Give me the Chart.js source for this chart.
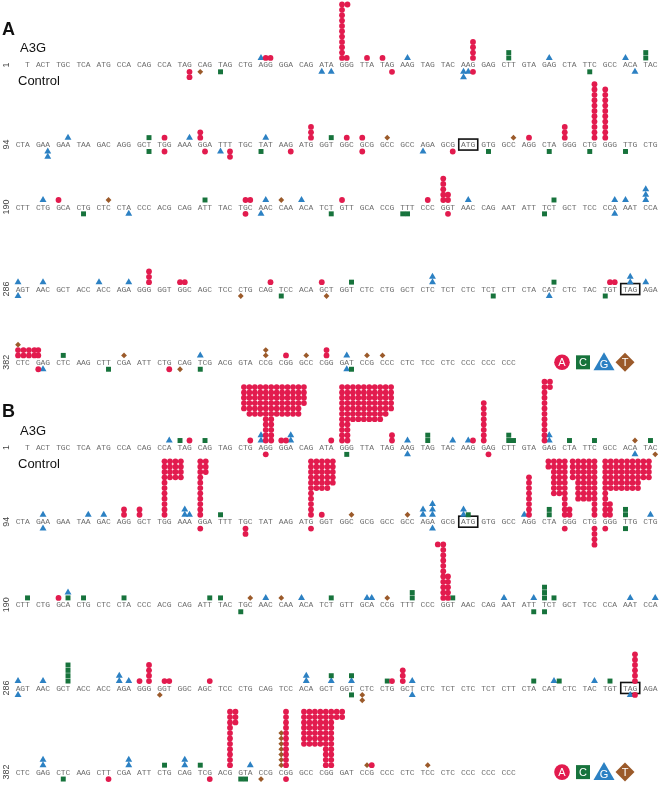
<!DOCTYPE html>
<html>
<head>
<meta charset="utf-8">
<script src="https://cdn.jsdelivr.net/npm/chart.js@4.4.1/dist/chart.umd.min.js"></script>
<style>
  html, body { margin: 0; padding: 0; background: #fff; }
  #wrap { position: relative; width: 664px; height: 787px; }
</style>
</head>
<body>
<div id="wrap"><canvas id="hypermut" width="664" height="787"></canvas></div>
<script>
// sequence lines (first line starts on the third base of a codon, "_" = empty)
var rowStart = ["1", "94", "190", "286", "382"];
var rowCodons = [
  "__T ACT TGC TCA ATG CCA CAG CCA TAG CAG TAG CTG AGG GGA CAG ATA GGG TTA TAG AAG TAG TAC AAG GAG CTT GTA GAG CTA TTC GCC ACA TAC",
  "CTA GAA GAA TAA GAC AGG GCT TGG AAA GGA TTT TGC TAT AAG ATG GGT GGC GCG GCC GCC AGA GCG ATG GTG GCC AGG CTA GGG CTG GGG TTG CTG",
  "CTT CTG GCA CTG CTC CTA CCC ACG CAG ATT TAC TGC AAC CAA ACA TCT GTT GCA CCG TTT CCC GGT AAC CAG AAT ATT TCT GCT TCC CCA AAT CCA",
  "AGT AAC GCT ACC ACC AGA GGG GGT GGC AGC TCC CTG CAG TCC ACA GCT GGT CTC CTG GCT CTC TCT CTC TCT CTT CTA CAT CTC TAC TGT TAG AGA",
  "CTC GAG CTC AAG CTT CGA ATT CTG CAG TCG ACG GTA CCG CGG GCC CGG GAT CCG CCC CTC TCC CTC CCC CCC CCC"
];
var boxedCodons = [[1, 22], [3, 30]];   // start ATG, stop TAG
var legendBases = ["A", "C", "G", "T"];

// stacks: [line, base index in line, number of hits, new base, first level (opt), nudge (opt)]
var a3gA = [
  [0,36,1,"G"],[0,37,1,"A"],[0,38,1,"A"],[0,49,1,"A"],[0,52,1,"A"],[0,54,1,"A"],[0,58,1,"G"],[0,68,4,"A"],
  [0,73,2,"C"],[0,79,1,"G"],[0,90,1,"G"],[0,93,2,"C"],
  [1,8,1,"G"],[1,20,1,"C"],[1,22,1,"A"],[1,26,1,"G"],[1,27,2,"A"],[1,37,1,"G"],[1,44,3,"A"],[1,47,1,"C"],
  [1,49,1,"A"],[1,51,1,"A"],[1,55,1,"T"],[1,74,1,"T"],[1,76,1,"A"],[1,81,3,"A"],[1,86,11,"A"],[1,87,10,"A"],
  [2,4,1,"G"],[2,6,1,"A"],[2,14,1,"T"],[2,28,1,"C"],[2,34,1,"A"],[2,35,1,"A"],[2,37,1,"G"],[2,39,1,"T"],
  [2,42,1,"G"],[2,48,1,"A"],[2,61,1,"A"],[2,63,5,"A"],[2,64,2,"A"],[2,67,1,"G"],[2,80,1,"C"],[2,89,1,"G"],
  [2,90,1,"G"],[2,93,3,"G"],
  [3,0,1,"G"],[3,4,1,"G"],[3,12,1,"G"],[3,17,1,"G"],[3,20,3,"A"],[3,24,1,"A"],[3,25,1,"A"],[3,38,1,"A"],
  [3,45,1,"A"],[3,50,1,"C"],[3,62,2,"G"],[3,80,1,"C"],[3,88,1,"A"],[3,89,1,"A"],[3,91,2,"G"],[3,93,1,"G"],
  [4,0,1,"T",3],[4,3,2,"A"],[4,7,1,"C"],[4,16,1,"T"],[4,27,1,"G"],[4,37,2,"T"],[4,40,1,"A"],[4,43,1,"T"],
  [4,46,2,"A"],[4,49,1,"G"],[4,52,1,"T"],[4,54,1,"T"]
];
var ctrlA = [
  [0,26,2,"A"],[0,27,1,"T"],[0,30,1,"C"],[0,45,1,"G"],[0,47,1,"G"],[0,56,1,"A"],[0,66,2,"G"],[0,67,1,"G"],
  [0,68,1,"A"],[0,85,1,"C"],[0,92,1,"G"],
  [1,5,2,"G"],[1,20,1,"C"],[1,22,1,"A"],[1,28,1,"A"],[1,30,1,"G"],[1,32,2,"A"],[1,36,1,"C"],[1,41,1,"A"],
  [1,51,1,"A"],[1,60,1,"G"],[1,65,1,"A"],[1,70,1,"C"],[1,79,1,"C"],[1,85,1,"C"],[1,90,1,"C"],
  [2,10,1,"C"],[2,17,1,"G"],[2,34,1,"A"],[2,36,1,"G"],[2,47,1,"C"],[2,57,1,"C"],[2,58,1,"C"],[2,64,1,"A"],
  [2,78,1,"C"],[2,89,1,"G"],
  [3,0,1,"G"],[3,33,1,"T"],[3,39,1,"C"],[3,46,1,"T"],[3,71,1,"C"],[3,79,1,"G"],[3,87,1,"C"],
  [4,3,1,"A"],[4,4,1,"G"],[4,14,1,"C"],[4,23,1,"A"],[4,24,1,"T"],[4,27,1,"C"],[4,49,1,"G"],[4,50,1,"C"]
];
var a3gB = [
  [0,23,1,"G"],[0,24,1,"C"],[0,26,1,"A"],[0,28,1,"C"],[0,35,1,"A"],[0,36,2,"G"],[0,39,1,"A"],[0,40,1,"A"],
  [0,41,2,"G"],[0,47,1,"A"],[0,56,2,"A"],[0,58,1,"G"],[0,61,2,"C"],[0,65,1,"G"],[0,67,1,"G"],[0,68,1,"A"],
  [0,69,8,"A"],[0,73,2,"C"],[0,74,1,"C"],[0,79,2,"G"],[0,82,1,"C"],[0,86,1,"C"],[0,92,1,"T"],[0,94,1,"C"],
  [1,4,1,"G"],[1,11,1,"G"],[1,13,1,"G"],[1,16,2,"A"],[1,18,2,"A"],[1,25,2,"G"],[1,26,1,"G"],[1,30,1,"C"],
  [1,45,1,"A"],[1,50,1,"T"],[1,58,1,"T"],[1,60,2,"G"],[1,62,3,"G"],[1,66,2,"G"],[1,67,1,"C"],[1,75,1,"G"],
  [1,76,8,"A"],[1,79,2,"C"],[1,82,2,"A"],[1,88,3,"A"],[1,90,2,"C"],[1,94,1,"G"],
  [2,2,1,"C"],[2,6,1,"A"],[2,8,1,"C"],[2,8,1,"G"],[2,10,1,"C"],[2,16,1,"C"],[2,29,1,"C"],[2,30,1,"C"],
  [2,35,1,"T"],[2,37,1,"G"],[2,39,1,"T"],[2,42,1,"G"],[2,47,1,"C"],[2,52,1,"G"],[2,53,1,"G"],[2,55,1,"T"],
  [2,59,2,"C"],[2,64,5,"A"],[2,65,1,"C"],[2,72,1,"G"],[2,77,1,"G"],[2,78,3,"C"],[2,80,1,"C"],[2,91,1,"G"],
  [2,95,1,"G"],
  [3,0,1,"G"],[3,4,1,"G"],[3,8,4,"C"],[3,15,2,"G"],[3,17,1,"G"],[3,18,1,"A"],[3,20,4,"A"],[3,22,1,"A"],
  [3,23,1,"A"],[3,29,1,"A"],[3,43,2,"G"],[3,47,1,"G"],[3,47,1,"C"],[3,50,1,"G"],[3,50,1,"C"],[3,55,1,"C"],
  [3,56,1,"A"],[3,57,3,"A"],[3,59,1,"G"],[3,77,1,"C"],[3,80,1,"G"],[3,80,1,"C",1,1.1],[3,86,1,"G"],
  [3,88,1,"C"],[3,92,6,"A"],
  [4,4,2,"G"],[4,17,2,"G"],[4,22,1,"C"],[4,25,2,"G"],[4,27,1,"C"],[4,35,1,"G"],[4,39,7,"T"],[4,40,11,"A"],
  [4,52,1,"T"],[4,53,1,"A"],[4,61,1,"T"]
];
var ctrlB = [
  [0,37,1,"A"],[0,49,1,"C"],[0,58,1,"G"],[0,70,1,"A"],[0,92,1,"G"],[0,95,1,"T"],
  [1,4,1,"G"],[1,27,1,"A"],[1,34,2,"A"],[1,44,1,"A"],[1,62,1,"G"],[1,81,1,"A"],[1,86,4,"A"],[1,87,1,"A"],
  [1,90,1,"C"],
  [2,33,1,"C"],[2,77,1,"C"],[2,78,1,"C"],
  [3,0,1,"G"],[3,21,1,"T"],[3,50,1,"C"],[3,51,2,"T"],[3,59,1,"G"],[3,91,1,"G"],[3,92,1,"A"],
  [4,7,1,"C"],[4,14,1,"A"],[4,29,1,"A"],[4,33,1,"C"],[4,34,1,"C"],[4,36,1,"T"],[4,40,1,"A"]
];
// piled-up hits: [line, base index of anchor column, anchor column no., top level, column heights, new base]
var pilesA = [
  [0,48,0,11,[11,1],"A"],
  [4,0,0,2,[2,2,2,2],"A"]
];
var pilesB = [
  [0,37,4,11,[5,6,6,6,11,11,6,6,6,6,6,4],"A"],
  [0,48,0,11,[11,11,7,7,7,7,7,7,6,5],"A"],
  [0,78,0,12,[12,2],"A"],
  [1,22,0,11,[11,4,4,4],"A"],
  [1,27,0,11,[11,3],"A"],
  [1,44,0,11,[11,6,6,6,5],"A"],
  [1,81,3,11,[2,7,7,11],"A"],
  [1,86,4,11,[4,8,8,8,11],"A"],
  [1,87,0,11,[11,6,6,6,6,6,6,4,4],"A"],
  [2,63,1,11,[1,11],"A"],
  [4,32,0,11,[11,3],"A"],
  [4,47,5,11,[7,7,7,7,11,11,2,2],"A"]
];

// layout
var W = 664, H = 787;
var ROW_Y = { A: [61.5, 142, 205, 288, 362], B: [448, 523, 607, 691, 776] };
var SLOT_PX = 4.8, X0 = 14.2, CODON_SLOTS = 4.27, FIRST_GAP = 7, LEVEL_STEP = 5.4, PILE_STEP = 1.15;
var SHAPES = { A: "circle", C: "rect", G: "triangle", T: "rectRot" };
var COLORS = { A: "#E21B4E", C: "#17733C", G: "#2C81C3", T: "#9B5A2A" };
var SIZES = { A: 2.9, C: 3.5, G: 4.0, T: 2.9 };

function slotOf(nt) { return Math.floor(nt / 3) * CODON_SLOTS + nt % 3; }
function markY(rowY, level, below) {
  var d = FIRST_GAP + (level - 1) * LEVEL_STEP;
  return below ? rowY + d : rowY - d;
}

var points = { A: [], C: [], G: [], T: [] };
function addStacks(list, rowY, below) {
  var next = {};
  list.forEach(function(s) {
    var key = s[0] + ":" + s[1], lev = s[4] || next[key] || 1, x = slotOf(s[1]) + (s[5] || 0);
    for (var i = 0; i < s[2]; i++) points[s[3]].push({ x: x, y: markY(rowY[s[0]], lev + i, below) });
    next[key] = Math.max(next[key] || 1, lev + s[2]);
  });
}
function addPiles(list, rowY) {
  list.forEach(function(b) {
    var x0 = slotOf(b[1]) - b[2] * PILE_STEP;
    b[4].forEach(function(h, j) {
      for (var lev = b[3] - h + 1; lev <= b[3]; lev++)
        points[b[5]].push({ x: x0 + j * PILE_STEP, y: markY(rowY[b[0]], lev, false) });
    });
  });
}
addStacks(a3gA, ROW_Y.A, false); addStacks(ctrlA, ROW_Y.A, true); addPiles(pilesA, ROW_Y.A);
addStacks(a3gB, ROW_Y.B, false); addStacks(ctrlB, ROW_Y.B, true); addPiles(pilesB, ROW_Y.B);

function legendMark(ctx, base, x, y) {
  ctx.fillStyle = COLORS[base];
  ctx.beginPath();
  if (base === "A") ctx.arc(x, y, 7.8, 0, Math.PI * 2);
  if (base === "C") ctx.rect(x - 7, y - 7, 14, 14);
  if (base === "G") { ctx.moveTo(x, y - 10); ctx.lineTo(x + 10.5, y + 8); ctx.lineTo(x - 10.5, y + 8); ctx.closePath(); }
  if (base === "T") { ctx.moveTo(x, y - 9.5); ctx.lineTo(x + 9.5, y); ctx.lineTo(x, y + 9.5); ctx.lineTo(x - 9.5, y); ctx.closePath(); }
  ctx.fill();
  ctx.fillStyle = "#fff";
  ctx.font = '11px "Liberation Sans", Arial, sans-serif';
  ctx.fillText(base, x, base === "G" ? y + 3 : y + 0.5);
}

var sequencePlugin = {
  id: "sequence",
  beforeDatasetsDraw: function(chart) {
    var ctx = chart.ctx, xs = chart.scales.x, ys = chart.scales.y;
    ctx.save();
    ctx.textAlign = "center";
    ctx.textBaseline = "middle";
    ["A", "B"].forEach(function(p) {
      var rows = ROW_Y[p];
      rowCodons.forEach(function(line, r) {
        var y = ys.getPixelForValue(rows[r]);
        ctx.fillStyle = "#6e6e6e";
        ctx.font = '8px "Liberation Mono", monospace';
        line.split(" ").forEach(function(codon, c) {
          for (var k = 0; k < 3; k++) {
            if (codon[k] === "_") continue;
            ctx.fillText(codon[k], xs.getPixelForValue(c * CODON_SLOTS + k), y + 0.5);
          }
        });
        ctx.save();
        ctx.translate(7, y);
        ctx.rotate(-Math.PI / 2);
        ctx.fillStyle = "#444";
        ctx.font = '9px "Liberation Sans", Arial, sans-serif';
        ctx.fillText(rowStart[r], 0, 0);
        ctx.restore();
      });
      ctx.strokeStyle = "#111";
      ctx.lineWidth = 1.6;
      boxedCodons.forEach(function(b) {
        var cx = xs.getPixelForValue(b[1] * CODON_SLOTS + 1), cy = ys.getPixelForValue(rows[b[0]]);
        ctx.strokeRect(cx - 9.5, cy - 5.5, 19, 11);
      });
      ctx.fillStyle = "#111";
      ctx.textAlign = "left";
      ctx.font = 'bold 18px "Liberation Sans", Arial, sans-serif';
      ctx.fillText(p, 2, ys.getPixelForValue(rows[0]) - 35);
      ctx.font = '13px "Liberation Sans", Arial, sans-serif';
      ctx.fillText("A3G", 20, ys.getPixelForValue(rows[0]) - 16.5);
      ctx.fillText("Control", 18, ys.getPixelForValue(rows[0]) + 16.5);
      ctx.textAlign = "center";
      legendBases.forEach(function(b, i) {
        legendMark(ctx, b, 562 + i * 21, ys.getPixelForValue(rows[4]));
      });
    });
    ctx.restore();
  }
};

new Chart(document.getElementById("hypermut"), {
  type: "scatter",
  data: {
    datasets: legendBases.map(function(b) {
      return {
        label: b,
        data: points[b],
        pointStyle: SHAPES[b],
        pointRadius: SIZES[b],
        pointHoverRadius: SIZES[b],
        backgroundColor: COLORS[b],
        borderWidth: 0,
        clip: false
      };
    })
  },
  options: {
    responsive: false,
    animation: false,
    devicePixelRatio: 1,
    layout: { padding: 0 },
    events: [],
    plugins: { legend: { display: false }, tooltip: { enabled: false } },
    scales: {
      x: { type: "linear", display: false, min: -X0 / SLOT_PX, max: (W - X0) / SLOT_PX },
      y: { type: "linear", display: false, min: 0, max: H, reverse: true }
    }
  },
  plugins: [sequencePlugin]
});
</script>
</body>
</html>
